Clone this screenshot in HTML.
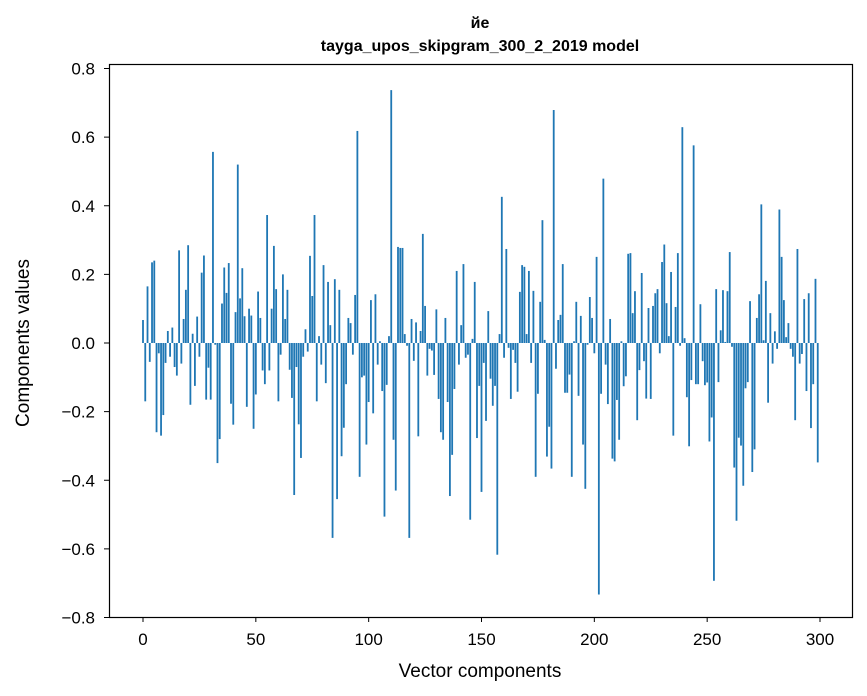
<!DOCTYPE html>
<html><head><meta charset="utf-8"><style>
html,body{margin:0;padding:0;background:#fff;}
svg{display:block;font-family:"Liberation Sans","DejaVu Sans","Noto Sans CJK SC",sans-serif;}
</style></head><body>
<svg id="chart" width="867" height="696" viewBox="0 0 867 696" xmlns="http://www.w3.org/2000/svg">
<rect width="867" height="696" fill="#fff"/>
<text x="480" y="28" text-anchor="middle" font-size="16" font-weight="bold">йе</text>
<text x="480" y="51" text-anchor="middle" font-size="16" font-weight="bold">tayga_upos_skipgram_300_2_2019 model</text>
<g id="bars"></g>
<g id="xticks"></g>
<g id="yticks"></g>
<rect x="109.5" y="64.5" width="743" height="553" fill="none" stroke="#000" stroke-width="1.2"/>
<text x="480" y="677" text-anchor="middle" font-size="19">Vector components</text>
<text transform="translate(29,343) rotate(-90)" text-anchor="middle" font-size="19">Components values</text>
</svg>
<script>
const values = [
0.067,-0.17,0.165,-0.055,0.235,0.24,-0.26,-0.03,-0.27,-0.21,
-0.058,0.035,-0.04,0.045,-0.07,-0.095,0.27,-0.06,0.07,0.155,
0.285,-0.18,0.027,-0.125,0.077,-0.04,0.205,0.255,-0.165,-0.072,
-0.165,0.557,-0.005,-0.35,-0.28,0.115,0.22,0.146,0.233,-0.177,
-0.238,0.09,0.52,0.13,0.218,0.078,-0.186,0.1,0.08,-0.25,
-0.15,0.15,0.073,-0.08,-0.12,0.373,-0.08,0.1,0.283,0.157,
-0.17,-0.034,0.2,0.07,0.155,-0.078,-0.16,-0.443,-0.07,-0.237,
-0.335,-0.04,0.04,-0.025,0.254,0.137,0.373,-0.17,0.02,-0.063,
0.227,-0.117,0.178,0.052,-0.568,0.186,-0.455,0.155,-0.33,-0.247,
-0.12,0.073,0.058,-0.034,0.14,0.618,-0.39,-0.1,-0.095,-0.296,
-0.172,0.125,-0.205,0.142,-0.063,0.005,-0.14,-0.506,-0.122,0.02,
0.737,-0.282,-0.43,0.28,0.277,0.277,0.026,-0.008,-0.568,0.07,
-0.052,0.06,-0.272,0.035,0.318,0.108,-0.095,-0.017,-0.022,-0.093,
0.098,-0.163,-0.26,-0.282,0.073,-0.172,-0.446,-0.326,-0.134,0.21,
-0.063,0.052,0.23,-0.043,-0.034,-0.515,0.012,0.178,-0.277,-0.125,
-0.434,-0.058,-0.227,0.093,-0.104,-0.183,-0.125,-0.617,0.026,0.426,
-0.043,0.274,-0.014,-0.163,-0.02,-0.058,-0.142,0.149,0.227,0.222,
0.026,0.21,-0.058,0.152,-0.39,-0.148,0.12,0.358,0.009,-0.331,
-0.244,-0.366,0.679,-0.075,0.067,0.082,0.23,-0.145,-0.145,-0.092,
-0.39,0.005,0.12,-0.154,0.079,-0.296,-0.425,-0.005,0.134,0.073,
-0.03,0.251,-0.733,-0.148,0.479,-0.063,-0.178,0.07,-0.337,-0.345,
-0.166,-0.282,0.005,-0.126,-0.097,0.26,0.262,0.087,0.151,-0.225,
-0.079,0.204,-0.053,-0.162,0.102,-0.163,0.108,0.145,0.157,-0.03,
0.236,0.287,0.116,0.02,0.207,-0.27,0.105,0.262,-0.008,0.629,
0.014,-0.158,-0.301,-0.108,0.576,-0.12,-0.12,0.113,-0.053,-0.123,
-0.115,-0.287,-0.217,-0.693,0.157,-0.114,0.037,0.154,0.003,0.151,
0.265,-0.011,-0.363,-0.518,-0.276,-0.299,-0.416,-0.132,-0.114,0.122,
-0.376,-0.31,0.073,0.142,0.404,0.008,0.181,-0.174,0.087,-0.06,
0.034,-0.017,0.389,0.251,0.125,0.017,0.058,-0.017,-0.04,-0.225,
0.274,-0.06,-0.032,0.128,-0.14,0.145,-0.248,-0.12,0.187,-0.348
];
const xTickValues = [0,50,100,150,200,250,300];
const yTickValues = [-0.8,-0.6,-0.4,-0.2,0.0,0.2,0.4,0.6,0.8];
const yTickLabels = ["\u22120.8","\u22120.6","\u22120.4","\u22120.2","0.0","0.2","0.4","0.6","0.8"];

const NS = "http://www.w3.org/2000/svg";
function xScale(i){ return 143 + i * (820 - 143) / 300; }
function yScale(v){ return 343 + (-v) * (617 - 68) / 1.6; }
const bw = 0.8 * (820 - 143) / 300;
const gb = document.getElementById('bars');
values.forEach((v, i) => {
  const r = document.createElementNS(NS, 'rect');
  const y0 = yScale(0), y1 = yScale(v);
  r.setAttribute('x', xScale(i) - bw / 2);
  r.setAttribute('width', bw);
  r.setAttribute('y', Math.min(y0, y1));
  r.setAttribute('height', Math.max(Math.abs(y1 - y0), 0.3));
  r.setAttribute('fill', '#1f77b4');
  
  
  gb.appendChild(r);
});
const gx = document.getElementById('xticks');
xTickValues.forEach(t => {
  const x = xScale(t);
  const l = document.createElementNS(NS, 'line');
  l.setAttribute('x1', x); l.setAttribute('x2', x);
  l.setAttribute('y1', 617); l.setAttribute('y2', 622);
  l.setAttribute('stroke', '#000');
  
  
  gx.appendChild(l);
  const tx = document.createElementNS(NS, 'text');
  tx.setAttribute('x', x); tx.setAttribute('y', 645);
  tx.setAttribute('text-anchor', 'middle'); tx.setAttribute('font-size', '17');
  tx.textContent = t;
  
  
  gx.appendChild(tx);
});
const gy = document.getElementById('yticks');
yTickValues.forEach((t, k) => {
  const y = yScale(t);
  const l = document.createElementNS(NS, 'line');
  l.setAttribute('x1', 104); l.setAttribute('x2', 109);
  l.setAttribute('y1', y); l.setAttribute('y2', y);
  l.setAttribute('stroke', '#000');
  
  
  gy.appendChild(l);
  const tx = document.createElementNS(NS, 'text');
  tx.setAttribute('x', 95); tx.setAttribute('y', y + 6);
  tx.setAttribute('text-anchor', 'end'); tx.setAttribute('font-size', '17');
  tx.textContent = yTickLabels[k];
  
  
  gy.appendChild(tx);
});
</script>
</body></html>
